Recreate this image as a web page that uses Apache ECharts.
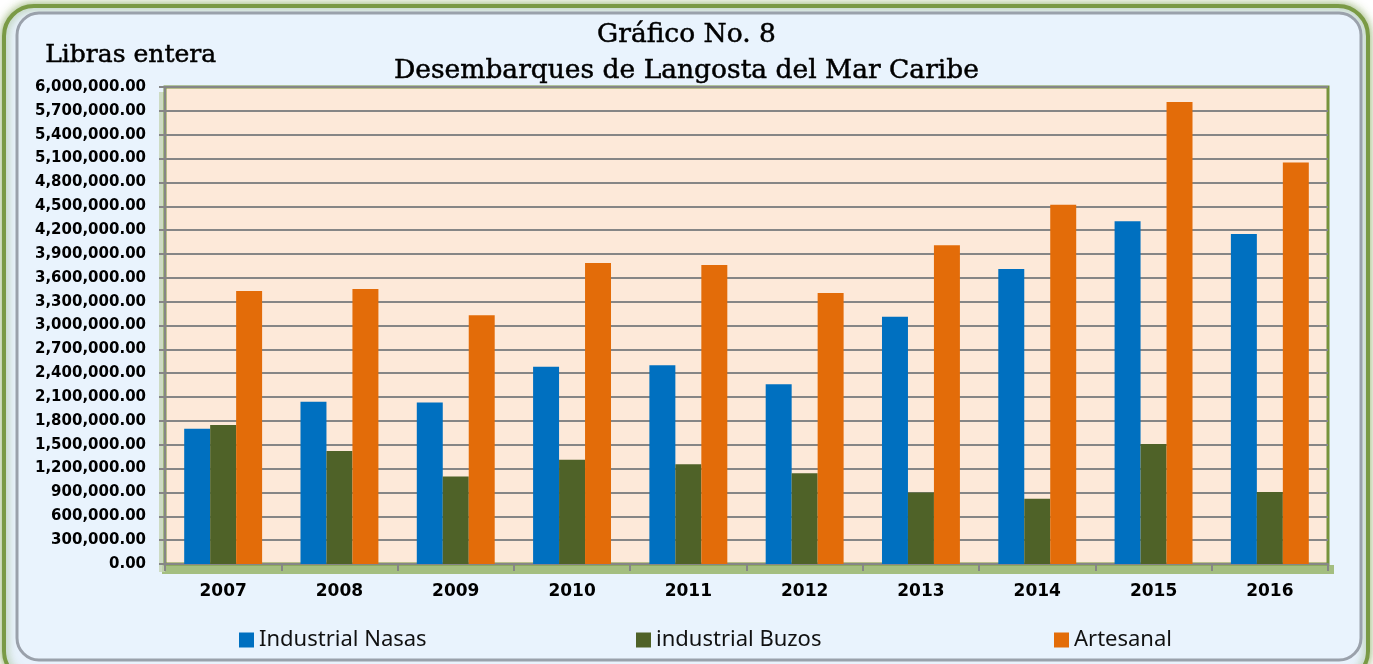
<!DOCTYPE html>
<html>
<head>
	<meta charset="utf-8">
	<title>Desembarques de Langosta del Mar Caribe</title>
	<style type="text/css">
		html, body { margin: 0; padding: 0; background: #ffffff; }
		#main { width: 1373px; height: 664px; }
	</style>
</head>
<body>
<div id="main"></div>
<script type="text/javascript" src="https://cdn.jsdelivr.net/npm/echarts@6/dist/echarts.min.js"></script>
<script type="text/javascript">
	// datos (libras entera)
	var years = ['2007', '2008', '2009', '2010', '2011', '2012', '2013', '2014', '2015', '2016'];
	var nasas = [1700000, 2040000, 2030000, 2480000, 2500000, 2260000, 3110000, 3710000, 4310000, 4150000];
	var buzos = [1750000, 1420000, 1100000, 1310000, 1255000, 1140000, 900000, 820000, 1510000, 906000];
	var artesanal = [3435000, 3460000, 3130000, 3785000, 3760000, 3410000, 4010000, 4520000, 5810000, 5050000];
	var seriesNames = ['Industrial Nasas', 'industrial Buzos', 'Artesanal'];
	var seriesColors = ['#0070c0', '#4f6228', '#e36c09'];

	var myChart = echarts.init(document.getElementById('main'));

	function fmt(v) {
		return v.toLocaleString('en-US', {minimumFractionDigits: 2, maximumFractionDigits: 2});
	}

	var serif = 'DejaVu Serif';
	var sans = 'DejaVu Sans';

	var option = {
		animation: false,
		backgroundColor: '#ffffff',
		color: seriesColors,
		graphic: [
			// marco verde exterior
			{
				type: 'rect', z: -10, silent: true,
				shape: {x: 4, y: 6, width: 1364, height: 675, r: 30},
				style: {fill: '#e8f2fc', stroke: '#7a9a45', lineWidth: 4,
					shadowBlur: 10, shadowColor: 'rgba(110,150,60,0.7)'}
			},
			// bisel gris interior
			{
				type: 'rect', z: -9, silent: true,
				shape: {x: 17, y: 13, width: 1344, height: 647, r: 22},
				style: {fill: '#e9f3fd', stroke: '#9aa1ab', lineWidth: 3}
			},
			{
				type: 'text', left: 45, top: 43, silent: true,
				style: {text: 'Libras entera', font: '25px "' + serif + '"', fill: '#000',
					stroke: '#000', lineWidth: 0.5}
			},
			// sombra verde bajo el area del grafico
			{
				type: 'rect', z: -1, silent: true,
				shape: {x: 162, y: 565, width: 1172, height: 9},
				style: {fill: '#98b46a', opacity: 0.85}
			},
			{
				type: 'rect', z: -1, silent: true,
				shape: {x: 159, y: 92, width: 6, height: 480},
				style: {fill: '#c5d4b4', opacity: 0.8}
			}
		],
		title: {
			text: 'Gráfico No. 8\nDesembarques de Langosta del Mar Caribe',
			left: 'center',
			top: 12,
			textStyle: {
				fontFamily: serif,
				fontWeight: 'normal',
				fontSize: 26.5,
				lineHeight: 36,
				color: '#000',
				textBorderColor: '#000',
				textBorderWidth: 0.5
			}
		},
		legend: [
			{
				data: [seriesNames[0]], left: 234, top: 624,
				icon: 'rect', itemWidth: 15, itemHeight: 15,
				textStyle: {fontFamily: 'Noto Sans', fontSize: 22, color: '#111'}
			},
			{
				data: [seriesNames[1]], left: 631, top: 624,
				icon: 'rect', itemWidth: 15, itemHeight: 15,
				textStyle: {fontFamily: 'Noto Sans', fontSize: 22, color: '#111'}
			},
			{
				data: [seriesNames[2]], left: 1049, top: 624,
				icon: 'rect', itemWidth: 15, itemHeight: 15,
				textStyle: {fontFamily: 'Noto Sans', fontSize: 22, color: '#111'}
			}
		],
		grid: {
			left: 165,
			right: 45,
			top: 87,
			bottom: 100,
			show: true,
			backgroundColor: '#fde9d9',
			borderColor: '#77933c',
			borderWidth: 3
		},
		xAxis: {
			type: 'category',
			data: years,
			axisLine: {lineStyle: {color: '#868686', width: 2}},
			axisTick: {show: true, length: 7, lineStyle: {color: '#868686', width: 2}},
			axisLabel: {
				margin: 19,
				fontFamily: sans,
				fontWeight: 'bold',
				fontSize: 17,
				color: '#000'
			}
		},
		yAxis: {
			type: 'value',
			min: 0,
			max: 6000000,
			interval: 300000,
			axisLine: {show: true, lineStyle: {color: '#868686', width: 2}},
			axisTick: {show: true, length: 6, lineStyle: {color: '#868686', width: 2}},
			splitLine: {lineStyle: {color: '#868686', width: 2}},
			axisLabel: {
				margin: 19,
				formatter: fmt,
				fontFamily: sans,
				fontWeight: 'bold',
				fontSize: 15,
				color: '#000'
			}
		},
		series: [
			{
				name: seriesNames[0], type: 'bar', data: nasas,
				barGap: '0%', barCategoryGap: '33%',
				itemStyle: {color: seriesColors[0]}
			},
			{
				name: seriesNames[1], type: 'bar', data: buzos,
				barGap: '0%', barCategoryGap: '33%',
				itemStyle: {color: seriesColors[1]}
			},
			{
				name: seriesNames[2], type: 'bar', data: artesanal,
				barGap: '0%', barCategoryGap: '33%',
				itemStyle: {color: seriesColors[2]}
			}
		]
	};

	myChart.setOption(option);
</script>
</body>
</html>
